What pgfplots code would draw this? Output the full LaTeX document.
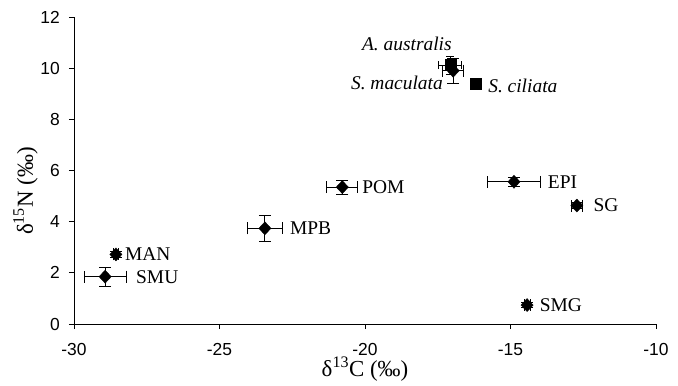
\documentclass[border=0pt]{standalone}
\usepackage{pgfplots}
\pgfplotsset{compat=1.18}
\usepackage{fontspec}
\setmainfont{Liberation Serif}
\newfontfamily\arial{Liberation Sans}
\begin{document}
\begin{tikzpicture}
\begin{axis}[
  scale only axis,
  width=582bp, height=307bp,
  xmin=-30, xmax=-10, ymin=0, ymax=12,
  xtick={-30,-25,...,-10}, ytick={0,2,...,12},
  axis lines=left,
  axis line style={-, line width=0.9pt},
  tick style={black, line width=0.9pt},
  tick align=outside,
  major tick length=5bp,
  /pgf/number format/assume math mode=true,
  tick label style={font=\arial\fontsize{17.5}{20}\selectfont, inner sep=0pt},
  xticklabel shift=14bp,
  yticklabel shift=9bp,
  xlabel={δ\textsuperscript{13}C (‰)},
  ylabel={δ\textsuperscript{15}N (‰)},
  label style={font=\fontsize{23}{26}\selectfont, inner sep=0pt},
  xlabel style={at={([yshift=-52bp]axis description cs:0.5,0)}, anchor=base},
  ylabel style={at={([xshift=-36bp]axis description cs:0,0.433)}, anchor=south, rotate=0},
  clip=false,
]
\addplot+[only marks, black, mark=diamond*, mark size=6.5bp, mark options={fill=black, xscale=1.25},
  error bars/.cd, x dir=both, y dir=both, x explicit, y explicit,
  error bar style={line width=0.9pt}, error mark options={rotate=90, mark size=6bp, line width=0.9pt}]
  table[x=x, y=y, x error=ex, y error=ey] {
x y ex ey
-28.56 2.72 0.10 0.10
-28.93 1.85 0.72 0.37
-23.44 3.74 0.60 0.50
-20.78 5.35 0.53 0.28
-14.88 5.56 0.90 0.18
-12.72 4.63 0.18 0.12
-14.43 0.74 0.10 0.10
-16.97 9.90 0.36 0.48
};
\addplot+[only marks, black, mark=square*, mark size=5.5bp, mark options={fill=black},
  error bars/.cd, x dir=both, y dir=both, x explicit, y explicit,
  error bar style={line width=0.9pt}, error mark options={rotate=90, mark size=4bp, line width=0.9pt}]
  table[x=x, y=y, x error=ex, y error=ey] {
x y ex ey
-17.07 10.12 0.40 0.35
-16.20 9.40 0.15 0.15
};
\begin{scope}[font=\fontsize{19.5}{22}\selectfont, inner sep=0pt]
\node[anchor=west] at (axis cs:-28.25,2.72) {MAN};
\node[anchor=west] at (axis cs:-27.87,1.85) {SMU};
\node[anchor=west] at (axis cs:-22.58,3.74) {MPB};
\node[anchor=west] at (axis cs:-20.10,5.35) {POM};
\node[anchor=west] at (axis cs:-13.72,5.56) {EPI};
\node[anchor=west] at (axis cs:-12.15,4.63) {SG};
\node[anchor=west] at (axis cs:-14.00,0.74) {SMG};
\node[anchor=west] at (axis cs:-15.77,9.30) {\itshape S. ciliata};
\node[anchor=east] at (axis cs:-17.32,9.42) {\itshape S. maculata};
\node at (axis cs:-18.56,10.95) {\itshape A. australis};
\end{scope}
\end{axis}
\path ([shift={(-74bp,-62bp)}]current axis.south west) rectangle ([shift={(22bp,17bp)}]current axis.north east);
\end{tikzpicture}
\end{document}
